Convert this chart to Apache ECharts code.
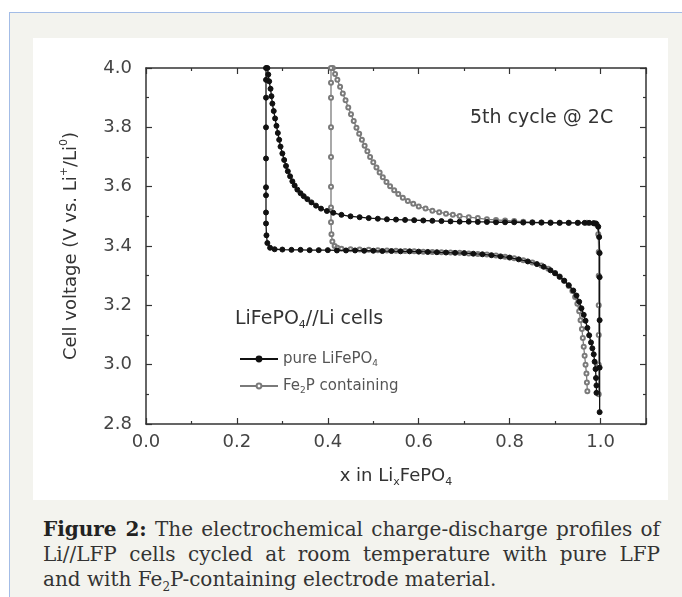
<!DOCTYPE html>
<html>
<head>
<meta charset="utf-8">
<script src="https://cdn.jsdelivr.net/npm/echarts@6/dist/echarts.min.js"></script>
<style>
  html, body { margin: 0; padding: 0; background: #fff; }
  body { width: 682px; height: 597px; position: relative; overflow: hidden; }
  .panel {
    position: absolute; left: 9px; top: 12px; width: 673px; height: 585px;
    background: #f3f3ee; border-top: 1px solid #a3bce6; border-left: 1px solid #a3bce6;
  }
  .figbox { position: absolute; left: 33px; top: 38px; width: 635px; height: 462px; background: #fff; }
  #chart { width: 635px; height: 462px; }
  .cap {
    position: absolute; left: 43px; top: 517px; width: 617px;
    font-family: "DejaVu Serif", "Liberation Serif", serif; font-size: 20px;
    line-height: 25px; color: #333; white-space: nowrap;
  }
  .cap .j { text-align: justify; text-align-last: justify; }
  .cap b { color: #222; }
  .cap sub { font-size: 12px; line-height: 0; }
</style>
</head>
<body>
<div class="panel"></div>
<div class="figbox"><div id="chart"></div></div>
<div class="cap">
  <div class="j"><b>Figure 2:</b> The electrochemical charge-discharge profiles of</div>
  <div class="j">Li//LFP cells cycled at room temperature with pure LFP</div>
  <div>and with Fe<sub>2</sub>P-containing electrode material.</div>
</div>
<script>
// x in LixFePO4 vs cell voltage, 5th cycle @ 2C
var xTicks = [0.0, 0.2, 0.4, 0.6, 0.8, 1.0];
var yTicks = [2.8, 3.0, 3.2, 3.4, 3.6, 3.8, 4.0];

// pure LiFePO4 - charge (delithiation), from x=1 up and left
var pureCharge = [
  [0.998, 2.84], [0.998, 2.99], [0.998, 3.15], [0.998, 3.295], [0.998, 3.376],
  [0.997, 3.43], [0.995, 3.465], [0.990, 3.476], [0.985, 3.477], [0.975, 3.478],
  [0.965, 3.478], [0.950, 3.478], [0.930, 3.478], [0.910, 3.478], [0.890, 3.478],
  [0.870, 3.479], [0.850, 3.479], [0.830, 3.479], [0.810, 3.480], [0.790, 3.480],
  [0.770, 3.480], [0.750, 3.481], [0.730, 3.481], [0.710, 3.482], [0.690, 3.482],
  [0.670, 3.483], [0.650, 3.484], [0.630, 3.485], [0.610, 3.486], [0.590, 3.487],
  [0.570, 3.488], [0.550, 3.489], [0.530, 3.490], [0.510, 3.492], [0.490, 3.494],
  [0.470, 3.497], [0.450, 3.500], [0.430, 3.505], [0.412, 3.512], [0.398, 3.518],
  [0.385, 3.526], [0.374, 3.536], [0.364, 3.547], [0.355, 3.558], [0.347, 3.568],
  [0.340, 3.578], [0.333, 3.590], [0.327, 3.604], [0.322, 3.618], [0.317, 3.635],
  [0.312, 3.652], [0.308, 3.670], [0.304, 3.690], [0.300, 3.712], [0.296, 3.735],
  [0.293, 3.758], [0.290, 3.781], [0.287, 3.805], [0.284, 3.830], [0.281, 3.855],
  [0.278, 3.880], [0.276, 3.905], [0.274, 3.930], [0.271, 3.955], [0.269, 3.978],
  [0.267, 4.000]
];

// pure LiFePO4 - discharge (lithiation)
var pureDischarge = [
  [0.264, 4.000], [0.264, 3.960], [0.264, 3.900], [0.264, 3.800], [0.264, 3.695],
  [0.264, 3.598], [0.264, 3.571], [0.264, 3.513], [0.264, 3.476], [0.265, 3.436],
  [0.267, 3.410], [0.273, 3.394], [0.283, 3.389], [0.300, 3.388], [0.320, 3.387],
  [0.340, 3.387], [0.360, 3.386], [0.380, 3.386], [0.400, 3.386], [0.420, 3.385],
  [0.440, 3.385], [0.460, 3.385], [0.480, 3.384], [0.500, 3.384], [0.520, 3.383],
  [0.540, 3.383], [0.560, 3.382], [0.580, 3.382], [0.600, 3.381], [0.620, 3.380],
  [0.640, 3.379], [0.660, 3.378], [0.680, 3.377], [0.700, 3.376], [0.720, 3.374],
  [0.740, 3.372], [0.760, 3.369], [0.780, 3.365], [0.800, 3.361], [0.820, 3.355],
  [0.840, 3.348], [0.860, 3.339], [0.875, 3.330], [0.890, 3.318], [0.900, 3.308],
  [0.910, 3.296], [0.920, 3.283], [0.930, 3.268], [0.940, 3.250], [0.947, 3.233],
  [0.953, 3.212], [0.958, 3.190], [0.963, 3.168], [0.967, 3.148], [0.971, 3.124],
  [0.975, 3.099], [0.979, 3.075], [0.982, 3.055], [0.985, 3.035], [0.987, 3.010],
  [0.989, 2.985], [0.990, 2.955], [0.991, 2.930], [0.991, 2.905]
];

// Fe2P containing - charge
var fe2pCharge = [
  [0.996, 2.90], [0.996, 3.00], [0.996, 3.10], [0.996, 3.20], [0.996, 3.30],
  [0.996, 3.38], [0.995, 3.44], [0.992, 3.472], [0.985, 3.477], [0.970, 3.478],
  [0.950, 3.478], [0.930, 3.478], [0.910, 3.478], [0.890, 3.479], [0.870, 3.479],
  [0.850, 3.480], [0.830, 3.482], [0.810, 3.484], [0.790, 3.486], [0.770, 3.488],
  [0.750, 3.490], [0.730, 3.494], [0.710, 3.497], [0.690, 3.501], [0.675, 3.505],
  [0.660, 3.509], [0.645, 3.514], [0.630, 3.519], [0.615, 3.526], [0.600, 3.533],
  [0.588, 3.542], [0.576, 3.552], [0.565, 3.563], [0.555, 3.575], [0.546, 3.588],
  [0.537, 3.601], [0.529, 3.616], [0.521, 3.632], [0.514, 3.648], [0.507, 3.665],
  [0.500, 3.682], [0.493, 3.700], [0.487, 3.719], [0.481, 3.738], [0.475, 3.758],
  [0.469, 3.778], [0.463, 3.799], [0.457, 3.821], [0.451, 3.844], [0.445, 3.867],
  [0.439, 3.891], [0.433, 3.914], [0.427, 3.937], [0.421, 3.960], [0.416, 3.980],
  [0.411, 4.000]
];

// Fe2P containing - discharge
var fe2pDischarge = [
  [0.407, 4.000], [0.407, 3.950], [0.407, 3.900], [0.407, 3.800], [0.407, 3.700],
  [0.407, 3.600], [0.407, 3.530], [0.407, 3.480], [0.408, 3.440], [0.410, 3.415],
  [0.415, 3.400], [0.421, 3.394], [0.430, 3.391], [0.450, 3.389], [0.470, 3.388],
  [0.490, 3.387], [0.510, 3.386], [0.530, 3.385], [0.550, 3.384], [0.570, 3.383],
  [0.590, 3.382], [0.610, 3.381], [0.630, 3.380], [0.650, 3.379], [0.670, 3.378],
  [0.690, 3.377], [0.710, 3.375], [0.730, 3.373], [0.750, 3.371], [0.770, 3.368],
  [0.790, 3.364], [0.810, 3.359], [0.830, 3.352], [0.850, 3.344], [0.870, 3.334],
  [0.885, 3.323], [0.900, 3.309], [0.910, 3.297], [0.920, 3.283], [0.930, 3.265],
  [0.938, 3.248], [0.944, 3.228], [0.949, 3.205], [0.953, 3.180], [0.956, 3.150],
  [0.959, 3.120], [0.961, 3.090], [0.963, 3.060], [0.965, 3.030], [0.967, 3.000],
  [0.969, 2.970], [0.970, 2.940], [0.971, 2.910]
];

var FONT = '"DejaVu Sans", "Liberation Sans", sans-serif';
var INK = '#333';
var subStyle = { fontSize: 11, verticalAlign: 'bottom', lineHeight: 12, fontFamily: FONT, color: INK };

function fmtTick(list) {
  return function (v) {
    for (var i = 0; i < list.length; i++) {
      if (Math.abs(list[i] - v) < 1e-6) return list[i].toFixed(1);
    }
    return '';
  };
}

var axisCommon = {
  type: 'value',
  interval: 0.2,
  axisLine: { show: true, onZero: false, lineStyle: { color: INK, width: 1.5 } },
  axisTick: { show: true, inside: true, length: 6, lineStyle: { color: INK, width: 1.2 } },
  minorTick: { show: true, splitNumber: 2, length: 3, lineStyle: { color: INK, width: 1.2 } },
  splitLine: { show: false },
  minorSplitLine: { show: false }
};

var myChart = echarts.init(document.getElementById('chart'));

function lineSeries(name, data, color, filled, size, z) {
  return {
    name: name,
    type: 'line',
    data: data,
    z: z,
    symbol: filled ? 'circle' : 'emptyCircle',
    symbolSize: size,
    showAllSymbol: true,
    animation: false,
    lineStyle: { color: color, width: 1.3 },
    itemStyle: { color: color, borderColor: color, borderWidth: 1 }
  };
}

myChart.setOption({
  backgroundColor: '#fff',
  grid: { left: 113, right: 22, top: 30, bottom: 76 },
  xAxis: [
    Object.assign({}, axisCommon, {
      min: 0, max: 1.1, position: 'bottom',
      name: 'x in Li{sub|x}FePO{sub|4}',
      nameLocation: 'middle', nameGap: 40,
      nameTextStyle: { fontFamily: FONT, fontSize: 18, color: INK, lineHeight: 24, rich: { sub: subStyle } },
      axisLabel: { margin: 9, fontFamily: FONT, fontSize: 18, color: '#444', formatter: fmtTick(xTicks) }
    }),
    Object.assign({}, axisCommon, {
      min: 0, max: 1.1, position: 'top',
      axisLabel: { show: false }
    })
  ],
  yAxis: [
    Object.assign({}, axisCommon, {
      min: 2.8, max: 4.0, position: 'left',
      name: 'Cell voltage (V vs. Li{sup|+}/Li{sup|0})',
      nameLocation: 'middle', nameGap: 63,
      nameTextStyle: {
        fontFamily: FONT, fontSize: 18, color: INK, lineHeight: 24,
        rich: { sup: { fontSize: 11, verticalAlign: 'top', lineHeight: 12, fontFamily: FONT, color: INK } }
      },
      axisLabel: { margin: 14, fontFamily: FONT, fontSize: 18, color: '#444', formatter: fmtTick(yTicks) }
    }),
    Object.assign({}, axisCommon, {
      min: 2.8, max: 4.0, position: 'right',
      axisLabel: { show: false }
    })
  ],
  legend: {
    orient: 'vertical',
    left: 201, top: 307,
    itemWidth: 38, itemHeight: 6, itemGap: 9,
    data: ['pure LiFePO4', 'Fe2P containing'],
    formatter: function (name) {
      return name === 'pure LiFePO4' ? 'pure LiFePO{s|4}' : 'Fe{s|2}P containing';
    },
    textStyle: {
      fontFamily: FONT, fontSize: 15, color: '#555', lineHeight: 18,
      rich: { s: { fontSize: 9, verticalAlign: 'bottom', lineHeight: 10, fontFamily: FONT, color: '#555' } }
    }
  },
  graphic: [
    {
      type: 'text', left: 437, top: 71,
      style: { text: '5th cycle @ 2C', font: '19px ' + FONT, fill: INK }
    },
    {
      type: 'text', left: 202, top: 269,
      style: {
        text: 'LiFePO{s|4}//Li cells', font: '19px ' + FONT, fill: INK, lineHeight: 24,
        rich: { s: { fontSize: 11, verticalAlign: 'bottom', lineHeight: 12, fontFamily: FONT, fill: INK } }
      }
    }
  ],
  series: [
    lineSeries('Fe2P containing', fe2pCharge, '#7a7a7a', false, 4, 2),
    lineSeries('Fe2P containing', fe2pDischarge, '#7a7a7a', false, 4, 2),
    lineSeries('pure LiFePO4', pureCharge, '#111', true, 5, 3),
    lineSeries('pure LiFePO4', pureDischarge, '#111', true, 5, 3)
  ]
});
</script>
</body>
</html>
